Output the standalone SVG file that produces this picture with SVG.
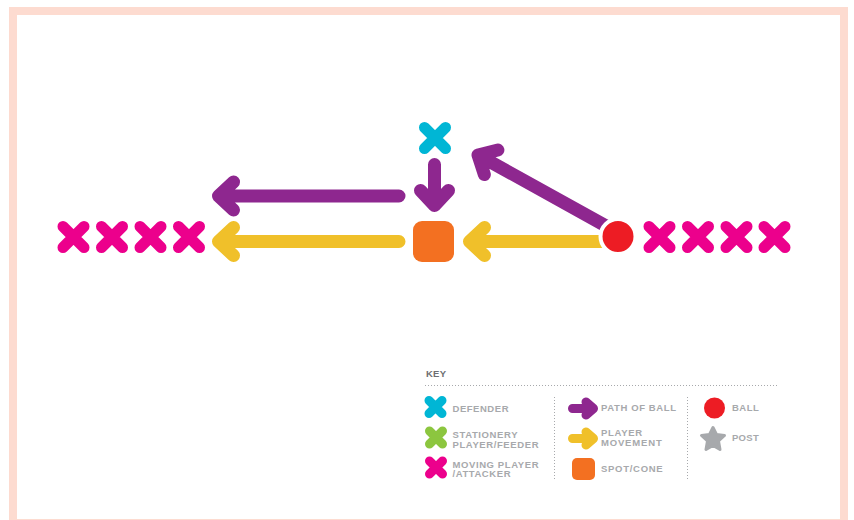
<svg xmlns="http://www.w3.org/2000/svg" width="854" height="520" viewBox="0 0 854 520">
<style>
.x{fill:none;stroke-width:11;stroke-linecap:round}
.lx{fill:none;stroke-width:9;stroke-linecap:round}
.mag{stroke:#ec008c}
.cyan{stroke:#00b6d5}
.green{stroke:#8cc63f}
.pur{stroke:#8e278f}
.yel{stroke:#f0c02a}
.arr{fill:none;stroke-width:13;stroke-linecap:round;stroke-linejoin:round}
.larr{fill:none;stroke-width:9;stroke-linecap:round;stroke-linejoin:round}
.t{font-family:"Liberation Sans",Arial,sans-serif;font-weight:bold;font-size:9.5px;fill:#a7a9ac}
.div{stroke:#a7a9ac;stroke-width:1;stroke-dasharray:1 2;fill:none}
</style>
<defs>
<g id="xm"><path d="M-10.5,-10.5L10.5,10.5M10.5,-10.5L-10.5,10.5"/></g>
<g id="lxm"><path d="M-6.5,-6.5L6.5,6.5M6.5,-6.5L-6.5,6.5"/></g>
</defs>
<rect width="854" height="520" fill="#ffffff"/>
<rect x="9" y="7" width="839" height="530" fill="#fddbd0"/>
<rect x="17" y="15" width="823" height="504" fill="#ffffff"/>

<g id="connectors">
<path class="arr pur" d="M399,196H218.5M233.5,182L218.5,196L233.5,210"/>
<path class="arr yel" d="M399,241.5H218.5M233.5,227.5L218.5,241.5L233.5,255.5"/>
<path class="arr pur" d="M434.5,164.5V205.5M420.5,190.5L434.5,205.5L448.5,190.5"/>
<path class="arr yel" d="M605,241.5H469.5M484.5,227.5L469.5,241.5L484.5,255.5"/>
<g transform="translate(478,155) rotate(29)">
<path class="arr pur" d="M150,0H0M15,-14L0,0L15,14" stroke-linecap="butt"/>
</g>
</g>

<g id="attackers-left" class="x mag">
<use href="#xm" x="73.5" y="237"/>
<use href="#xm" x="112" y="237"/>
<use href="#xm" x="150.5" y="237"/>
<use href="#xm" x="189" y="237"/>
</g>
<g id="attackers-right" class="x mag">
<use href="#xm" x="659.5" y="237"/>
<use href="#xm" x="698" y="237"/>
<use href="#xm" x="736.5" y="237"/>
<use href="#xm" x="774.5" y="237"/>
</g>
<g id="defender" class="x cyan"><use href="#xm" x="435" y="138"/></g>
<g id="cone"><rect x="413" y="221" width="41" height="41" rx="9" fill="#f37021"/></g>
<g id="ball"><circle cx="618" cy="236.5" r="17.5" fill="#ed1c24" stroke="#ffffff" stroke-width="4"/></g>

<g id="key">
<text class="t" x="426" y="377" font-size="8.5" style="fill:#6d6e71" textLength="20">KEY</text>
<path class="div" d="M425,385.5H779"/>
<path class="div" d="M554.5,397V481M687.5,397V481"/>
<g class="lx cyan"><use href="#lxm" x="435.5" y="407"/></g>
<g class="lx green"><use href="#lxm" x="436" y="437.5"/></g>
<g class="lx mag"><use href="#lxm" x="436" y="467.5"/></g>
<text class="t" x="452.5" y="411.5" textLength="56">DEFENDER</text>
<text class="t" x="452.5" y="437.5" textLength="65">STATIONERY</text>
<text class="t" x="452.5" y="447.5" textLength="86">PLAYER/FEEDER</text>
<text class="t" x="452.5" y="467.5" textLength="86">MOVING PLAYER</text>
<text class="t" x="452.5" y="477" textLength="58">/ATTACKER</text>
<path class="larr pur" d="M572.5,408.5H593.5M586,402L593.5,408.5L586,415" />
<path class="larr yel" d="M572.5,438.5H593.5M586,432L593.5,438.5L586,445" />
<rect x="572" y="458" width="23" height="22" rx="5" fill="#f37021"/>
<text class="t" x="601" y="411" textLength="75">PATH OF BALL</text>
<text class="t" x="601" y="436" textLength="41">PLAYER</text>
<text class="t" x="601" y="445.7" textLength="60.7">MOVEMENT</text>
<text class="t" x="601" y="472" textLength="61.7">SPOT/CONE</text>
<circle cx="714.5" cy="408" r="10.5" fill="#ed1c24"/>
<path d="M713,427.5L716.5,434.5L724.5,435.5L718.5,441L720,449.5L713,445.5L706,449.5L707.5,441L701.5,435.5L709.5,434.5Z" fill="#a7a9ac" stroke="#a7a9ac" stroke-width="3" stroke-linejoin="round"/>
<text class="t" x="732" y="411" textLength="26.7">BALL</text>
<text class="t" x="732" y="440.5" textLength="26.7">POST</text>
</g>
</svg>
